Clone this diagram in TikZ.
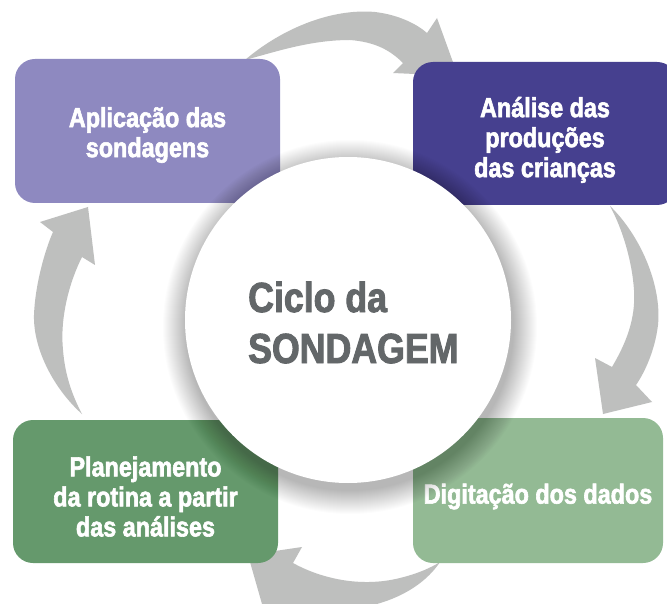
\documentclass[tikz,border=0pt]{standalone}
\usepackage{fontspec}
\newfontfamily\condfont{Liberation Sans Bold}[FakeStretch=0.85, FakeBold=2.2]
\definecolor{arrowgray}{RGB}{190,191,190}
\definecolor{cpurple}{RGB}{142,137,192}
\definecolor{cdark}{RGB}{70,64,143}
\definecolor{clgreen}{RGB}{147,186,148}
\definecolor{cgreen}{RGB}{101,153,108}
\definecolor{ctext}{RGB}{99,103,105}
\tikzset{
  stagebox/.style={rounded corners=20pt, inner sep=0pt, align=center, text=white,
    font=\condfont\fontsize{27.5}{30}\selectfont},
  cyclearrow/.style={fill=arrowgray, draw=none},
}
\begin{document}
\begin{tikzpicture}[x=1pt,y=-1pt]
\clip (0,0) rectangle (667,604);
\fill[white] (0,0) rectangle (667,604);
% arrows
\fill[cyclearrow] (245,60) .. controls (280,30) and (330,8) .. (375,12)
  .. controls (400,15) and (418,25) .. (427,33) -- (437,18) -- (458,76) -- (393,73) -- (403,63)
  .. controls (390,50) and (375,42) .. (350,40) .. controls (310,40) and (275,52) .. (245,60) -- cycle;
\fill[cyclearrow] (610,206) .. controls (640,235) and (662,285) .. (658,325)
  .. controls (655,350) and (645,372) .. (636,385) -- (652,402) -- (603,414) -- (595,358) -- (612,367)
  .. controls (625,345) and (636,320) .. (634,290) .. controls (632,260) and (622,228) .. (610,206) -- cycle;
\fill[cyclearrow] (440,562) .. controls (420,592) and (380,608) .. (340,610) -- (300,612) -- (266,618)
  -- (248,555) -- (302,547) -- (293,563)
  .. controls (320,578) and (360,588) .. (400,578) .. controls (420,573) and (432,567) .. (440,562) -- cycle;
\fill[cyclearrow] (82,414) .. controls (55,390) and (33,350) .. (34,315)
  .. controls (35,285) and (45,250) .. (53,232) -- (40,222) -- (88,207) -- (95,265) -- (82,257)
  .. controls (68,285) and (60,320) .. (63,350) .. controls (65,375) and (72,395) .. (82,414) -- cycle;
% boxes
\node[stagebox, fill=cpurple, minimum width=265pt, minimum height=144pt] (apl) at (147.5,131)
  {\rule{0pt}{28pt}Aplicação das\\sondagens};
\node[stagebox, fill=cdark, minimum width=264pt, minimum height=143pt] (ana) at (545,133.5)
  {\rule{0pt}{33pt}Análise das\\produções\\das crianças};
\node[stagebox, fill=clgreen, minimum width=250pt, minimum height=145pt] (dig) at (538,490.5)
  {\rule{0pt}{32pt}Digitação dos dados};
\node[stagebox, fill=cgreen, minimum width=265pt, minimum height=143pt] (pla) at (145.5,491.5)
  {\rule{0pt}{30pt}Planejamento\\da rotina a partir\\das análises};
% circle shadow
\foreach \r in {0,...,23} {
  \fill[black, opacity=0.013] (350,327) circle[radius={(187-\r)*1pt}];
}
\node[circle, fill=white, minimum size=326pt, inner sep=0pt] (ciclo) at (348,320) {};
\node[anchor=base west, align=left, inner sep=0pt, text=ctext,
  font=\condfont\fontsize{42}{51}\selectfont] (title) at (248,363) {Ciclo da\\SONDAGEM};
\end{tikzpicture}
\end{document}
